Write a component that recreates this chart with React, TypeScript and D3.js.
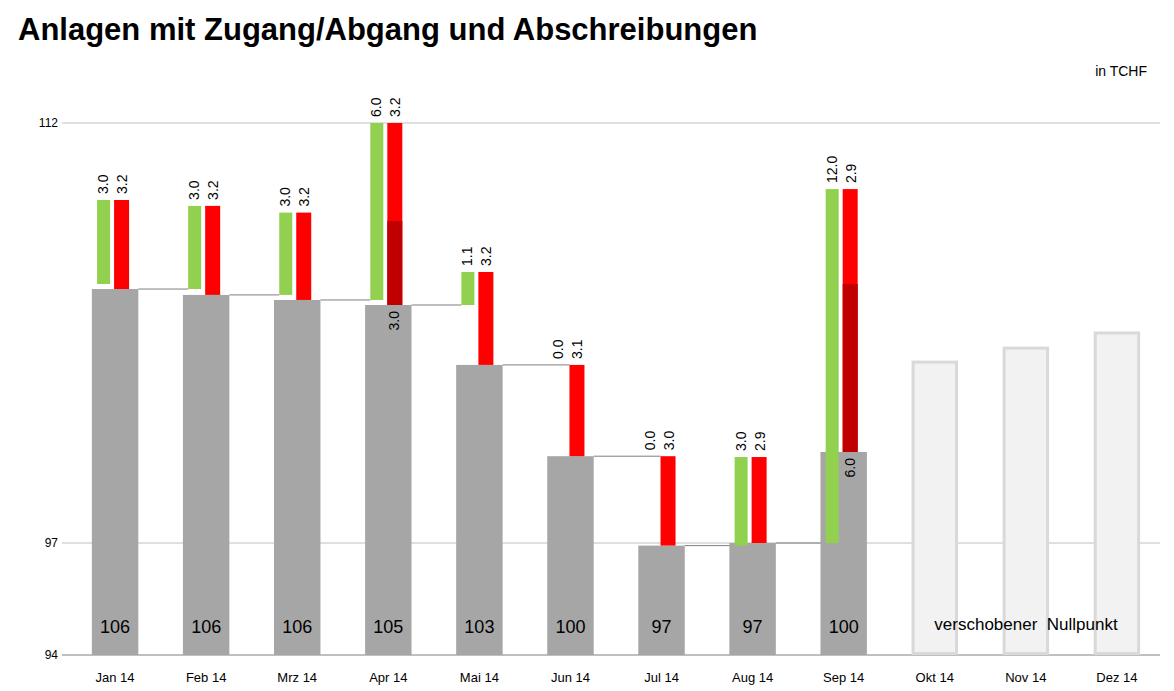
import React, { useRef, useEffect } from 'react';
import * as d3 from 'd3';

const months = ['Jan 14', 'Feb 14', 'Mrz 14', 'Apr 14', 'Mai 14', 'Jun 14', 'Jul 14', 'Aug 14', 'Sep 14', 'Okt 14', 'Nov 14', 'Dez 14'];
const startBalance = 106.25;
const endBalance = [106.07, 105.86, 105.68, 105.5, 103.36, 100.1, 96.93, 97.0, 100.25];
const forecast = [103.46, 103.96, 104.5];
// top of the green/red stack as drawn in the picture
const stackTop = [109.25, 109.04, 108.8, 112, 106.68, 103.36, 100.1, 100.07, 109.64];
const zugang = [3.0, 3.0, 3.0, 6.0, 1.1, 0.0, 0.0, 3.0, 12.0];
const abschreibung = [3.2, 3.2, 3.2, 3.2, 3.2, 3.1, 3.0, 2.9, 2.9];
const abgang = [0, 0, 0, 3.0, 0, 0, 0, 0, 6.0];
const balanceLabels = ['106', '106', '106', '105', '103', '100', '97', '97', '100'];
const yTicks = [94, 97, 112];

export default function App() {
    const svgRef = useRef<SVGSVGElement | null>(null);

    useEffect(() => {
        const width = 1174;
        const height = 691;
        const svg = d3.select(svgRef.current).attr('width', width).attr('height', height);
        svg.selectAll('*').remove();

        // broken axis: below 97 is stretched
        const y = d3.scaleLinear().domain([94, 97, 112]).range([655, 543, 123]);
        const x = d3.scaleBand().domain(months).range([70, 1162]).paddingInner(0.49).paddingOuter(0.24);
        const bw = x.bandwidth();
        const cx = (i: number) => x(months[i])! + bw / 2;
        const font = 'Arial, Liberation Sans, sans-serif';

        svg.append('text').attr('x', 18).attr('y', 40).text('Anlagen mit Zugang/Abgang und Abschreibungen')
            .attr('font-family', font).attr('font-size', 31).attr('font-weight', 'bold');
        svg.append('text').attr('x', 1147).attr('y', 76).attr('text-anchor', 'end').text('in TCHF')
            .attr('font-family', font).attr('font-size', 14);

        yTicks.forEach((t) => {
            svg.append('line').attr('x1', 62).attr('x2', 1160).attr('y1', y(t)).attr('y2', y(t))
                .attr('stroke', t === 94 ? '#808080' : '#c0c0c0').attr('stroke-width', 1);
            svg.append('text').attr('x', 58).attr('y', y(t) + 4).attr('text-anchor', 'end').text(t)
                .attr('font-family', font).attr('font-size', 12);
        });

        months.forEach((m, i) => {
            svg.append('text').attr('x', cx(i)).attr('y', 682).attr('text-anchor', 'middle').text(m)
                .attr('font-family', font).attr('font-size', 13);
        });

        const vlabel = (px: number, py: number, txt: string, anchor: string) =>
            svg.append('text').attr('transform', `translate(${px + 5},${py}) rotate(-90)`)
                .attr('text-anchor', anchor).text(txt).attr('font-family', font).attr('font-size', 14);

        endBalance.forEach((v, i) => {
            const prev = i === 0 ? startBalance : endBalance[i - 1];
            const x0 = x(months[i])!;
            svg.append('rect').attr('x', x0).attr('y', y(v)).attr('width', bw).attr('height', y(94) - y(v))
                .attr('fill', '#a6a6a6');
            svg.append('text').attr('x', cx(i)).attr('y', 633).attr('text-anchor', 'middle').text(balanceLabels[i])
                .attr('font-family', font).attr('font-size', 18);

            const gx = cx(i) - 18;
            const rx = cx(i) - 1;
            const top = stackTop[i];
            if (zugang[i] > 0) {
                svg.append('rect').attr('x', gx).attr('y', y(top)).attr('width', 13)
                    .attr('height', y(prev) - y(top)).attr('fill', '#92d050');
            }
            svg.append('rect').attr('x', rx).attr('y', y(top)).attr('width', 15)
                .attr('height', y(v) - y(top)).attr('fill', '#ff0000');
            if (abgang[i] > 0) {
                svg.append('rect').attr('x', rx).attr('y', y(v + abgang[i])).attr('width', 15)
                    .attr('height', y(v) - y(v + abgang[i])).attr('fill', '#c00000');
                vlabel(rx + 7, y(v) + 6, abgang[i].toFixed(1), 'end');
            }
            const ly = y(top) - 6;
            vlabel(gx + 6, ly, zugang[i].toFixed(1), 'start');
            vlabel(rx + 8, ly, abschreibung[i].toFixed(1), 'start');

            if (i < endBalance.length - 1) {
                const nextLeft = zugang[i + 1] > 0 ? cx(i + 1) - 18 : cx(i + 1) - 1;
                svg.append('line').attr('x1', x0 + bw).attr('x2', nextLeft).attr('y1', y(v)).attr('y2', y(v))
                    .attr('stroke', '#7f7f7f').attr('stroke-width', 1);
            }
        });

        forecast.forEach((v, j) => {
            const i = endBalance.length + j;
            svg.append('rect').attr('x', x(months[i])! + 1.5).attr('y', y(v)).attr('width', bw - 3)
                .attr('height', y(94) - y(v) - 1.5).attr('fill', '#f2f2f2').attr('stroke', '#d9d9d9').attr('stroke-width', 3);
        });
        svg.append('text').attr('x', 1026).attr('y', 630).attr('text-anchor', 'middle').attr('xml:space', 'preserve')
            .text('verschobener  Nullpunkt').attr('font-family', font).attr('font-size', 17);
    }, []);

    return <svg ref={svgRef} style={{ position: 'absolute', left: 0, top: 0 }}></svg>;
}
